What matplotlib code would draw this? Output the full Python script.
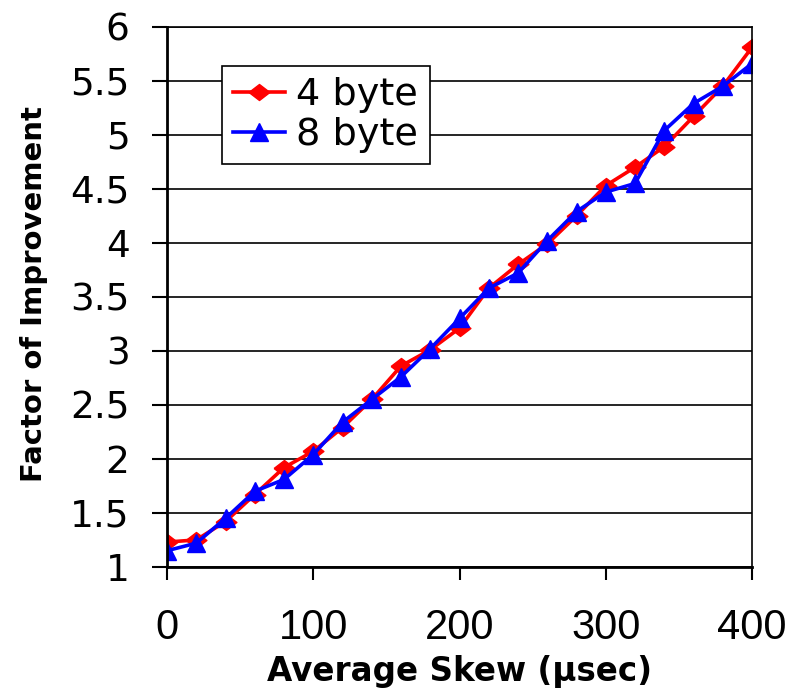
import numpy as np
import matplotlib.pyplot as plt

plt.rcParams['font.family'] = ['Liberation Sans', 'DejaVu Sans']

# Daten
skew = [0, 20, 40, 60, 80, 100, 120, 140, 160, 180, 200,
        220, 240, 260, 280, 300, 320, 340, 360, 380, 400]
byte4 = [1.23, 1.25, 1.42, 1.67, 1.92, 2.07, 2.29, 2.55, 2.86, 3.01, 3.21,
         3.58, 3.80, 3.99, 4.25, 4.53, 4.70, 4.89, 5.17, 5.45, 5.81]
byte8 = [1.15, 1.22, 1.45, 1.70, 1.81, 2.04, 2.34, 2.55, 2.76, 3.02, 3.30,
         3.58, 3.72, 4.02, 4.29, 4.47, 4.55, 5.04, 5.29, 5.45, 5.66]
ytick_labels = ['1', '1.5', '2', '2.5', '3', '3.5', '4', '4.5', '5', '5.5', '6']

# breite Raute wie im Original
raute = [(-1.3, 0), (0, 1), (1.3, 0), (0, -1), (-1.3, 0)]

fig = plt.figure(figsize=(8.03, 6.88), dpi=100)
ax = fig.add_axes([0.208, 0.176, 0.7285, 0.785])

ax.plot(skew, byte4, color='red', lw=2.6, marker=raute, ms=15, label='4 byte')
ax.plot(skew, byte8, color='blue', lw=2.6, marker='^', ms=12.5, label='8 byte')

ax.set_xlim(0, 400)
ax.set_ylim(1, 6)
ax.set_xticks(np.arange(0, 401, 100))
ax.set_yticks(np.arange(1, 6.01, 0.5))
ax.set_yticklabels(ytick_labels, family='DejaVu Sans', fontsize=27)
ax.yaxis.grid(True, color='black', lw=1.2)
ax.set_axisbelow(True)
ax.tick_params(axis='x', labelsize=30, direction='out', length=9.5, width=1.5, pad=20)
ax.tick_params(axis='y', direction='out', length=11, width=1.5, pad=16)
for s in ['left', 'bottom']:
    ax.spines[s].set_linewidth(2)
for s in ['top', 'right']:
    ax.spines[s].set_linewidth(1.2)

# Achsenbeschriftungen (DejaVu Bold ist breiter, wie im Original)
ax.set_xlabel('Average Skew (µsec)', fontsize=23.5, fontweight='bold',
              family='DejaVu Sans', va='center')
ax.xaxis.set_label_coords(0.5, -0.193)
ax.set_ylabel('Factor of Improvement', fontsize=21, fontweight='bold',
              family='DejaVu Sans', va='center')
ax.yaxis.set_label_coords(-0.228, 0.506)

leg = ax.legend(loc='upper left', bbox_to_anchor=(0.094, 0.928),
                prop={'family': 'DejaVu Sans', 'size': 27.5},
                frameon=True, fancybox=False, edgecolor='black', framealpha=1,
                handlelength=1.35, borderpad=0.3, labelspacing=0.1,
                handletextpad=0.3, borderaxespad=0)
leg.get_frame().set_linewidth(1.2)

plt.savefig('out.png', dpi=100)
